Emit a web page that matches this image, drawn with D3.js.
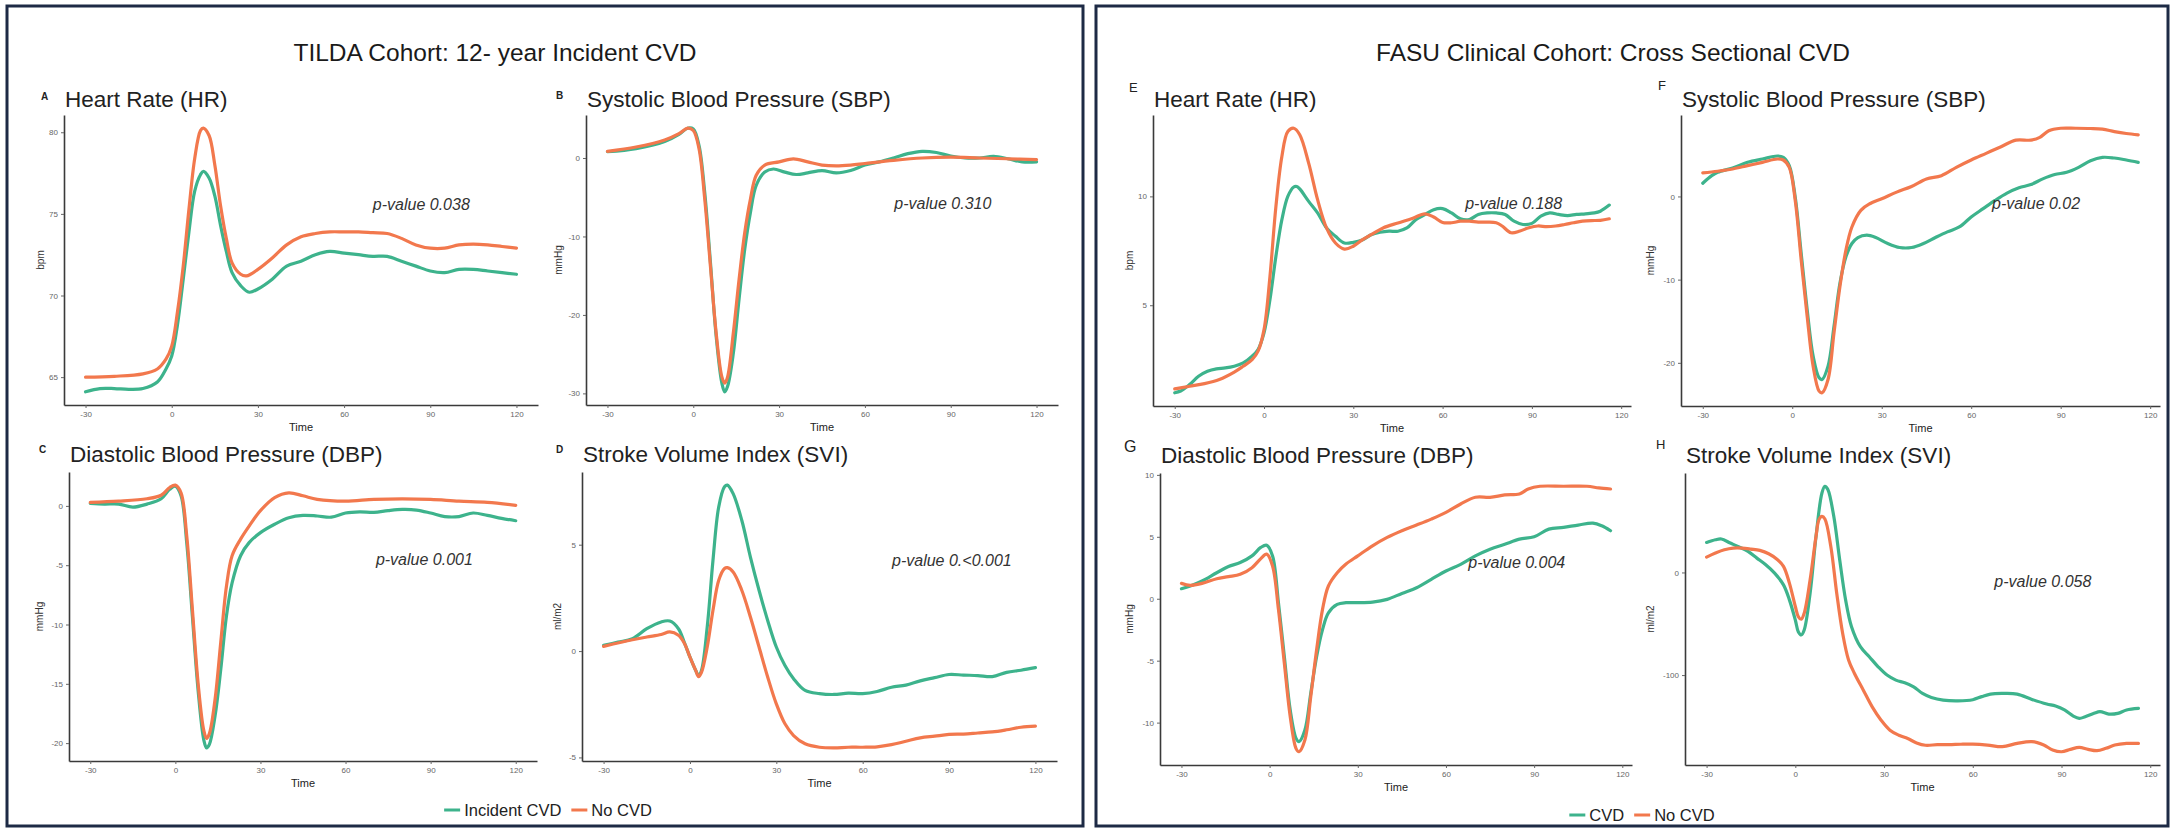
<!DOCTYPE html>
<html><head><meta charset="utf-8">
<script src="https://cdn.jsdelivr.net/npm/d3@7"></script>
<style>
body{margin:0;background:#fff}
svg{display:block}
text{font-family:"Liberation Sans",Arial,Helvetica,sans-serif}
</style>
</head><body>
<svg id="chart" width="2174" height="830"></svg>
<script>
// ---------------- DATA ----------------
const timeTicks = [-30, 0, 30, 60, 90, 120];
const cohortTitles = ["TILDA Cohort: 12- year Incident CVD", "FASU Clinical Cohort: Cross Sectional CVD"];
const legendLeft = ["Incident CVD", "No CVD"];
const legendRight = ["CVD", "No CVD"];
const panelLetters = ["A", "B", "C", "D", "E", "F", "G", "H"];
const panelTitles = ["Heart Rate (HR)", "Systolic Blood Pressure (SBP)", "Diastolic Blood Pressure (DBP)", "Stroke Volume Index (SVI)",
                     "Heart Rate (HR)", "Systolic Blood Pressure (SBP)", "Diastolic Blood Pressure (DBP)", "Stroke Volume Index (SVI)"];
const unitLabels = ["bpm", "mmHg", "mmHg", "ml/m2", "bpm", "mmHg", "mmHg", "ml/m2"];
const pValueLabels = ["p-value 0.038", "p-value 0.310", "p-value 0.001", "p-value 0.<0.001",
                      "p-value 0.188", "p-value 0.02", "p-value 0.004", "p-value 0.058"];
const yTickValues = [[65, 70, 75, 80], [-30, -20, -10, 0], [-20, -15, -10, -5, 0], [-5, 0, 5],
                     [5, 10], [-20, -10, 0], [-10, -5, 0, 5, 10], [-100, 0]];

// [time, value]
const hrTildaCvd = [[-30,64.1],[-25,64.3],[-20,64.3],[-15,64.25],[-10,64.3],[-5,64.7],[-2,65.5],[0,66.3],[2,68.2],[4,71.0],[6,73.9],[8,76.4],[10,77.4],[11,77.6],[13,77.2],[15,76.1],[17,74.3],[19,72.7],[21,71.4],[24,70.6],[27,70.2],[30,70.4],[35,71.0],[40,71.8],[45,72.1],[50,72.5],[55,72.7],[60,72.6],[65,72.5],[70,72.4],[75,72.4],[80,72.1],[85,71.8],[90,71.5],[95,71.4],[100,71.6],[105,71.6],[110,71.5],[115,71.4],[120,71.3]];
const hrTildaNo = [[-30,65.0],[-20,65.05],[-10,65.2],[-5,65.5],[-2,66.1],[0,66.9],[2,69.0],[4,71.8],[6,75.3],[8,78.4],[10,80.1],[11,80.25],[13,79.8],[15,78.0],[17,75.5],[19,73.5],[21,72.0],[24,71.3],[26,71.2],[30,71.6],[35,72.3],[40,73.1],[45,73.6],[50,73.8],[55,73.9],[60,73.9],[65,73.9],[70,73.85],[75,73.8],[80,73.5],[85,73.1],[90,72.9],[95,72.9],[100,73.1],[105,73.15],[110,73.1],[115,73.0],[120,72.9]];

const sbpTildaCvd = [[-30,0.8],[-20,1.2],[-10,2.1],[-5,3.0],[-2,3.8],[0,3.7],[2,1.6],[4,-4.4],[6,-13.3],[8,-22.7],[10,-28.7],[11,-29.8],[12,-29.1],[14,-24.9],[16,-18.0],[18,-11.6],[20,-6.9],[22,-3.5],[25,-1.8],[28,-1.4],[32,-1.8],[36,-2.1],[40,-1.9],[45,-1.6],[50,-1.9],[55,-1.6],[60,-0.9],[65,-0.5],[70,0],[75,0.55],[80,0.85],[85,0.7],[90,0.25],[95,0],[100,0],[105,0.2],[110,-0.1],[115,-0.5],[120,-0.5]];
const sbpTildaNo = [[-30,0.85],[-20,1.4],[-10,2.3],[-5,3.1],[-2,3.8],[0,3.5],[2,1.2],[4,-5.2],[6,-13.8],[8,-22.3],[10,-27.9],[11,-28.7],[12,-27.9],[14,-22.3],[16,-15.5],[18,-9.5],[20,-5.2],[22,-2.2],[25,-0.9],[30,-0.5],[35,-0.1],[40,-0.5],[45,-0.9],[50,-1.0],[55,-0.9],[60,-0.7],[70,-0.3],[80,0],[90,0.1],[100,0],[110,-0.1],[120,-0.2]];

const dbpTildaCvd = [[-30,0.2],[-25,0.15],[-20,0.15],[-15,-0.1],[-10,0.15],[-5,0.6],[-2,1.4],[0,1.65],[2,0.85],[4,-3.1],[6,-9.3],[8,-15.5],[10,-19.7],[11,-20.4],[12,-20.1],[14,-17.7],[16,-13.8],[18,-9.3],[20,-6.5],[23,-4.2],[26,-3.1],[30,-2.25],[35,-1.55],[40,-1.0],[45,-0.8],[50,-0.85],[55,-0.95],[60,-0.6],[65,-0.5],[70,-0.55],[75,-0.4],[80,-0.3],[85,-0.35],[90,-0.6],[95,-0.9],[100,-0.9],[105,-0.6],[110,-0.8],[115,-1.05],[120,-1.25]];
const dbpTildaNo = [[-30,0.3],[-20,0.4],[-10,0.6],[-5,0.9],[-2,1.55],[0,1.75],[2,1.1],[4,-2.5],[6,-8.7],[8,-14.9],[10,-18.9],[11,-19.6],[12,-19.2],[14,-16.3],[16,-11.5],[18,-6.8],[20,-4.2],[23,-2.8],[26,-1.7],[30,-0.4],[35,0.7],[40,1.1],[45,0.85],[50,0.55],[60,0.4],[70,0.55],[80,0.6],[90,0.55],[100,0.4],[110,0.3],[120,0.05]];

const sviTildaCvd = [[-30,0.27],[-25,0.42],[-20,0.58],[-15,1.05],[-10,1.37],[-7,1.41],[-4,1.05],[-2,0.42],[0,-0.28],[2,-0.91],[3,-1.15],[4,-0.91],[6,1.13],[8,4.27],[10,6.78],[12,7.72],[13,7.8],[15,7.4],[18,6.15],[21,4.42],[24,2.86],[27,1.44],[30,0.19],[33,-0.68],[36,-1.3],[40,-1.85],[45,-2.0],[50,-2.04],[55,-1.98],[60,-2.0],[65,-1.9],[70,-1.7],[75,-1.6],[80,-1.4],[85,-1.25],[90,-1.1],[95,-1.13],[100,-1.15],[105,-1.2],[110,-1.0],[115,-0.9],[120,-0.78]];
const sviTildaNo = [[-30,0.22],[-20,0.53],[-15,0.66],[-10,0.78],[-7,0.9],[-4,0.74],[-2,0.38],[0,-0.28],[2,-0.91],[3,-1.2],[4,-1.0],[6,0.19],[8,1.92],[10,3.33],[12,3.88],[13,3.92],[15,3.72],[18,2.86],[21,1.6],[24,0.19],[27,-1.22],[30,-2.48],[33,-3.42],[36,-3.97],[40,-4.36],[45,-4.52],[50,-4.55],[55,-4.52],[60,-4.52],[65,-4.5],[70,-4.4],[75,-4.24],[80,-4.08],[85,-4.0],[90,-3.92],[95,-3.9],[100,-3.85],[105,-3.8],[110,-3.7],[115,-3.58],[120,-3.53]];

const hrFasuCvd = [[-30,0.98],[-28,1.06],[-25,1.36],[-22,1.74],[-19,1.97],[-16,2.08],[-13,2.12],[-10,2.2],[-7,2.35],[-4,2.66],[-2,2.97],[0,3.73],[2,5.26],[4,7.25],[6,8.93],[8,10.0],[10,10.43],[11,10.45],[12,10.34],[15,9.77],[18,9.24],[21,8.55],[24,8.17],[27,7.86],[30,7.89],[33,8.0],[36,8.24],[39,8.35],[42,8.4],[45,8.4],[48,8.55],[51,8.93],[54,9.16],[57,9.39],[60,9.44],[63,9.24],[66,8.97],[69,8.94],[72,9.17],[75,9.24],[78,9.24],[81,9.17],[84,8.86],[87,8.71],[90,8.76],[93,9.09],[96,9.24],[99,9.17],[102,9.12],[105,9.17],[108,9.2],[111,9.24],[113,9.32],[116,9.6]];
const hrFasuNo = [[-30,1.16],[-25,1.28],[-20,1.4],[-15,1.59],[-10,1.93],[-7,2.2],[-4,2.5],[-2,2.89],[0,3.88],[2,6.33],[4,9.54],[6,11.83],[8,12.98],[10,13.13],[12,12.83],[15,11.53],[18,9.85],[21,8.55],[24,7.86],[27,7.58],[30,7.71],[33,8.0],[36,8.24],[40,8.55],[45,8.78],[50,9.0],[54,9.2],[57,9.05],[60,8.8],[63,8.79],[66,8.86],[69,8.86],[72,8.82],[75,8.82],[78,8.79],[80,8.64],[83,8.33],[86,8.41],[89,8.56],[92,8.64],[95,8.61],[98,8.64],[101,8.71],[104,8.79],[107,8.86],[110,8.89],[113,8.9],[116,8.97]];

const sbpFasuCvd = [[-30,1.59],[-27,2.5],[-25,2.9],[-20,3.43],[-15,4.1],[-10,4.5],[-5,4.86],[-3,4.7],[-1,3.7],[1,-0.08],[3,-6.85],[5,-13.6],[7,-19.2],[9,-21.8],[10,-22.0],[12,-20.4],[14,-15.6],[16,-10.4],[18,-7.25],[20,-5.66],[22,-4.94],[25,-4.66],[28,-4.94],[32,-5.66],[36,-6.14],[40,-6.14],[44,-5.66],[48,-4.94],[52,-4.26],[56,-3.67],[60,-2.47],[64,-1.47],[68,-0.48],[72,0.4],[76,1.04],[80,1.43],[84,2.11],[88,2.63],[92,2.9],[96,3.5],[100,4.3],[104,4.7],[108,4.62],[112,4.38],[116,4.1]];
const sbpFasuNo = [[-30,2.83],[-25,3.03],[-20,3.3],[-15,3.7],[-10,4.1],[-5,4.5],[-3,4.38],[-1,3.5],[1,-0.48],[3,-7.65],[5,-14.4],[7,-20.4],[9,-23.4],[10,-23.6],[12,-22.0],[14,-16.4],[16,-10.8],[18,-6.45],[20,-3.67],[23,-1.67],[26,-0.88],[30,-0.28],[35,0.52],[40,1.2],[45,2.11],[50,2.5],[55,3.5],[60,4.38],[65,5.18],[70,5.98],[75,6.77],[80,6.77],[83,7.1],[86,7.9],[90,8.2],[95,8.2],[100,8.17],[104,8.09],[108,7.8],[112,7.57],[116,7.41]];

const dbpFasuCvd = [[-30,0.81],[-27,1.03],[-23,1.43],[-18,2.1],[-14,2.6],[-10,2.92],[-6,3.46],[-3,4.14],[-1,4.32],[1,3.46],[3,-0.32],[5,-4.65],[7,-8.97],[9,-11.27],[10,-11.54],[12,-10.6],[14,-7.62],[16,-4.65],[18,-2.49],[20,-1.14],[23,-0.46],[26,-0.32],[30,-0.32],[35,-0.27],[40,-0.05],[45,0.43],[50,0.89],[55,1.57],[60,2.24],[65,2.78],[70,3.46],[75,4.0],[80,4.4],[85,4.81],[90,5.0],[95,5.62],[100,5.76],[105,5.95],[110,6.1],[113,5.89],[116,5.49]];
const dbpFasuNo = [[-30,1.24],[-27,1.08],[-23,1.24],[-18,1.62],[-14,1.78],[-10,1.97],[-6,2.51],[-3,3.24],[-1,3.6],[1,2.65],[3,-0.86],[5,-5.19],[7,-9.5],[9,-12.1],[10,-12.35],[12,-11.4],[14,-7.9],[16,-4.1],[18,-0.86],[20,1.03],[23,2.1],[26,2.8],[30,3.46],[35,4.27],[40,4.95],[45,5.49],[50,5.95],[55,6.43],[60,6.97],[65,7.65],[70,8.19],[75,8.19],[80,8.38],[85,8.46],[88,8.86],[92,9.08],[100,9.08],[108,9.08],[112,8.95],[116,8.86]];

const sviFasuCvd = [[-30,29.3],[-27,31.9],[-25,32.6],[-22,28.7],[-19,24.8],[-16,20.5],[-13,14.0],[-10,7.5],[-7,-0.65],[-4,-12.1],[-2,-26.7],[0,-46.3],[1,-57.7],[2,-60.9],[3,-56.0],[5,-20.2],[7,35.2],[9,77.5],[10,84.0],[11,80.8],[13,54.7],[15,12.4],[17,-26.7],[19,-52.8],[22,-72.3],[25,-82.1],[28,-91.9],[31,-100],[34,-104.9],[37,-107.5],[40,-111.4],[43,-117.9],[46,-121.8],[50,-124.4],[55,-125.1],[60,-124],[63,-121],[66,-118.5],[70,-117.9],[75,-118.5],[80,-123.7],[85,-128.2],[88,-130.2],[91,-134],[94,-140],[96,-142.2],[98,-140.6],[101,-137.3],[103,-135.7],[106,-138],[109,-137.3],[112,-134],[116,-132.5]];
const sviFasuNo = [[-30,15.0],[-27,18.9],[-24,22.1],[-21,23.8],[-18,23.8],[-15,22.8],[-12,21.5],[-9,18.2],[-6,12.4],[-4,5.9],[-2,-10.4],[0,-33.2],[1,-43],[2,-45.6],[3,-39.7],[5,-7.2],[7,35.2],[8,51.5],[9,54.7],[10,52.1],[12,25.4],[14,-20.2],[16,-59.3],[18,-85.3],[20,-98.4],[23,-114.7],[26,-131],[29,-144],[32,-153.7],[35,-158.6],[38,-161.9],[41,-166.1],[44,-168.4],[48,-167.8],[52,-167.8],[56,-167.4],[60,-167.3],[65,-168.2],[70,-169.8],[75,-166.6],[80,-164.9],[84,-168.2],[87,-173],[90,-174.7],[93,-172.4],[96,-170.5],[99,-172.4],[102,-173.7],[105,-171.4],[108,-168.2],[112,-166.6],[116,-166.6]];

const seriesCvd = [hrTildaCvd, sbpTildaCvd, dbpTildaCvd, sviTildaCvd, hrFasuCvd, sbpFasuCvd, dbpFasuCvd, sviFasuCvd];
const seriesNo  = [hrTildaNo, sbpTildaNo, dbpTildaNo, sviTildaNo, hrFasuNo, sbpFasuNo, dbpFasuNo, sviFasuNo];

// ---------------- LAYOUT / STYLE ----------------
const COL_CVD = "#3db38c", COL_NO = "#f2784d";
const layout = [
  {x0:64,  x1:538,  y0:115, y1:405, lx:41,   ly:100, ls:10, lb:true,  ty:107, ux:40,   p:[70,75.6]},
  {x0:586, x1:1058, y0:115, y1:405, lx:556,  ly:99,  ls:10, lb:true,  ty:107, ux:558,  p:[70.3,-5.8]},
  {x0:69,  x1:537,  y0:472, y1:761, lx:39,   ly:453, ls:10, lb:true,  ty:462, ux:39,   p:[70.7,-4.5]},
  {x0:582, x1:1057, y0:472, y1:761, lx:556,  ly:453, ls:10, lb:true,  ty:462, ux:557,  p:[70.2,4.25]},
  {x0:1153,x1:1631, y0:115, y1:406, lx:1129, ly:92,  ls:13, lb:false, ty:107, ux:1129, p:[67.6,9.7]},
  {x0:1681,x1:2160, y0:115, y1:406, lx:1658, ly:90,  ls:13, lb:false, ty:107, ux:1650, p:[67,-0.8]},
  {x0:1160,x1:1632, y0:473, y1:765, lx:1124, ly:452, ls:16, lb:false, ty:463, ux:1129, p:[67.6,2.9]},
  {x0:1685,x1:2160, y0:473, y1:765, lx:1656, ly:449, ls:13, lb:false, ty:463, ux:1650, p:[67.3,-8.7]}
];

const svg = d3.select("#chart");
svg.append("rect").attr("width",2174).attr("height",830).attr("fill","#fff");

// frames
[[7,6,1076,820],[1096,6,1072,820]].forEach(r=>{
  svg.append("rect").attr("x",r[0]).attr("y",r[1]).attr("width",r[2]).attr("height",r[3])
    .attr("fill","#fff").attr("stroke","#1d2a45").attr("stroke-width",3);
});

// cohort titles
svg.append("text").attr("x",495).attr("y",61).attr("text-anchor","middle")
  .attr("font-size",24.5).attr("fill","#1a1a1a").text(cohortTitles[0]);
svg.append("text").attr("x",1613).attr("y",61).attr("text-anchor","middle")
  .attr("font-size",24.5).attr("fill","#1a1a1a").text(cohortTitles[1]);

const lineGen = (x,y)=> d3.line().x(d=>x(d[0])).y(d=>y(d[1])).curve(d3.curveCatmullRom.alpha(0.5));

layout.forEach((L,i)=>{
  const all = seriesCvd[i].concat(seriesNo[i]);
  const xe = d3.extent(all,d=>d[0]), ye = d3.extent(all,d=>d[1]);
  const xp = (xe[1]-xe[0])*0.05, yp = (ye[1]-ye[0])*0.05;
  const x = d3.scaleLinear().domain([xe[0]-xp, xe[1]+xp]).range([L.x0, L.x1]);
  const y = d3.scaleLinear().domain([ye[0]-yp, ye[1]+yp]).range([L.y1, L.y0]);
  const g = svg.append("g");

  const xa = g.append("g").attr("transform",`translate(0,${L.y1})`)
    .call(d3.axisBottom(x).tickValues(timeTicks).tickSize(3).tickPadding(3).tickSizeOuter(0).tickFormat(d=>String(d)));
  const ya = g.append("g").attr("transform",`translate(${L.x0},0)`)
    .call(d3.axisLeft(y).tickValues(yTickValues[i]).tickSize(3).tickPadding(3).tickSizeOuter(0).tickFormat(d=>String(d)));
  [xa,ya].forEach(a=>{
    a.select(".domain").attr("stroke","#3a3a3a").attr("stroke-width",1.6);
    a.selectAll(".tick line").attr("stroke","#666").attr("stroke-width",1);
    a.selectAll(".tick text").attr("fill","#666").attr("font-size",8)
      .attr("font-family","'Liberation Sans',Arial,sans-serif");
  });

  // lines
  g.append("path").datum(seriesCvd[i]).attr("d",lineGen(x,y)).attr("fill","none")
    .attr("stroke",COL_CVD).attr("stroke-width",3.2).attr("stroke-linejoin","round").attr("stroke-linecap","round");
  g.append("path").datum(seriesNo[i]).attr("d",lineGen(x,y)).attr("fill","none")
    .attr("stroke",COL_NO).attr("stroke-width",3.2).attr("stroke-linejoin","round").attr("stroke-linecap","round");

  // panel letter
  g.append("text").attr("x",L.lx).attr("y",L.ly).attr("font-size",L.ls)
    .attr("font-weight",L.lb?"bold":"normal").attr("fill","#222").text(panelLetters[i]);
  // panel title
  g.append("text").attr("x",L.x0+1).attr("y",L.ty).attr("font-size",22.5).attr("fill","#222").text(panelTitles[i]);
  // unit label
  const yc = (L.y0+L.y1)/2;
  g.append("text").attr("transform",`translate(${L.ux+3.5},${yc}) rotate(-90)`).attr("text-anchor","middle")
    .attr("font-size",10).attr("fill","#333").text(unitLabels[i]);
  // Time label
  g.append("text").attr("x",(L.x0+L.x1)/2).attr("y",L.y1+26).attr("text-anchor","middle")
    .attr("font-size",11).attr("fill","#222").text("Time");
  // p-value
  g.append("text").attr("x",x(L.p[0])).attr("y",y(L.p[1])).attr("dy","0.35em")
    .attr("font-size",16).attr("font-style","italic").attr("fill","#333").text(pValueLabels[i]);
});

// legends
function legend(cx, cy, names){
  const g = svg.append("g");
  let xpos = 0;
  const items = [];
  names.forEach((n,k)=>{
    const it = g.append("g");
    it.append("line").attr("x1",0).attr("x2",16).attr("y1",0).attr("y2",0)
      .attr("stroke",k===0?COL_CVD:COL_NO).attr("stroke-width",3);
    const t = it.append("text").attr("x",20).attr("y",0).attr("dy","0.35em")
      .attr("font-size",16.5).attr("fill","#222").text(n);
    const w = 20 + t.node().getComputedTextLength();
    it.attr("transform",`translate(${xpos},0)`);
    xpos += w + 10;
  });
  const total = xpos - 10;
  g.attr("transform",`translate(${cx-total/2},${cy})`);
}
legend(548, 810, legendLeft);
legend(1642, 815, legendRight);
</script>
</body></html>
